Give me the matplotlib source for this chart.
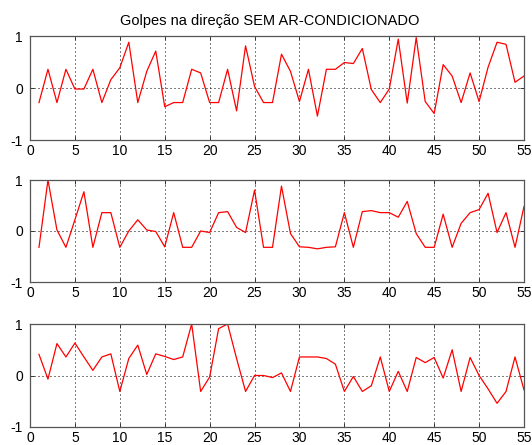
import numpy as np
import matplotlib
matplotlib.use("Agg")
import matplotlib.pyplot as plt

title = "Golpes na direção SEM AR-CONDICIONADO"
x = list(range(1, 56))
s1 = [-0.28, 0.36, -0.28, 0.36, -0.02, -0.02, 0.36, -0.28, 0.16, 0.39,
      0.88, -0.28, 0.32, 0.71, -0.36, -0.28, -0.28, 0.36, 0.29, -0.28,
      -0.28, 0.36, -0.44, 0.81, 0.03, -0.28, -0.28, 0.65, 0.32, -0.26,
      0.36, -0.54, 0.36, 0.36, 0.49, 0.47, 0.76, -0.03, -0.28, -0.02,
      0.94, -0.29, 0.97, -0.26, -0.49, 0.45, 0.23, -0.28, 0.29, -0.26,
      0.40, 0.88, 0.84, 0.11, 0.23]
s2 = [-0.32, 1.0, 0.02, -0.32, 0.22, 0.77, -0.32, 0.36, 0.36, -0.32,
      0.0, 0.22, 0.02, -0.01, -0.31, 0.36, -0.32, -0.32, 0.0, -0.03,
      0.36, 0.38, 0.07, -0.03, 0.80, -0.32, -0.32, 0.88, -0.05, -0.31,
      -0.32, -0.35, -0.32, -0.31, 0.36, -0.32, 0.38, 0.40, 0.36, 0.36,
      0.27, 0.58, -0.05, -0.32, -0.32, 0.33, -0.32, 0.15, 0.36, 0.42,
      0.74, -0.03, 0.36, -0.32, 0.48]
s3 = [0.41, -0.07, 0.62, 0.36, 0.63, 0.36, 0.10, 0.36, 0.42, -0.31,
      0.33, 0.59, 0.02, 0.42, 0.37, 0.31, 0.36, 1.0, -0.31, -0.03,
      0.91, 1.0, 0.33, -0.31, 0.0, 0.0, -0.04, 0.05, -0.31, 0.36,
      0.36, 0.36, 0.33, 0.22, -0.31, -0.02, -0.31, -0.20, 0.36, -0.31,
      0.08, -0.31, 0.35, 0.25, 0.35, -0.05, 0.50, -0.31, 0.35, 0.0,
      -0.26, -0.54, -0.31, 0.36, -0.28]
xticks = [0, 5, 10, 15, 20, 25, 30, 35, 40, 45, 50, 55]
yticks = [-1, 0, 1]

plt.rcParams['font.family'] = ['Liberation Sans', 'DejaVu Sans']
plt.rcParams['axes.unicode_minus'] = False
fig = plt.figure(figsize=(5.32, 4.45), dpi=100)
W, H = 532, 445
boxes = [(30, 36, 524, 140), (30, 180, 524, 282), (30, 324, 524, 427)]
series = [s1, s2, s3]
for i, ((l, t, r, b), s) in enumerate(zip(boxes, series)):
    ax = fig.add_axes([l / W, (H - b) / H, (r - l) / W, (b - t) / H])
    ax.plot(x, s, color='red', lw=0.9)
    ax.set_xlim(0, 55)
    ax.set_ylim(-1, 1)
    ax.set_xticks(xticks)
    ax.set_yticks(yticks)
    ax.tick_params(direction='in', labelsize=10, length=3, width=0.7,
                   top=True, right=True, colors='#333333', labelcolor='black')
    ax.tick_params(axis='y', pad=5)
    ax.tick_params(axis='x', pad=3)
    ax.grid(True, linestyle=(0, (1, 3)), color='black', lw=0.72)
    for sp in ax.spines.values():
        sp.set_color('#555555')
        sp.set_linewidth(0.9)
    if i == 0:
        ax.set_title(title, fontsize=10.5, pad=8, x=(270 - l) / (r - l))

fig.savefig("out.png", dpi=100)
